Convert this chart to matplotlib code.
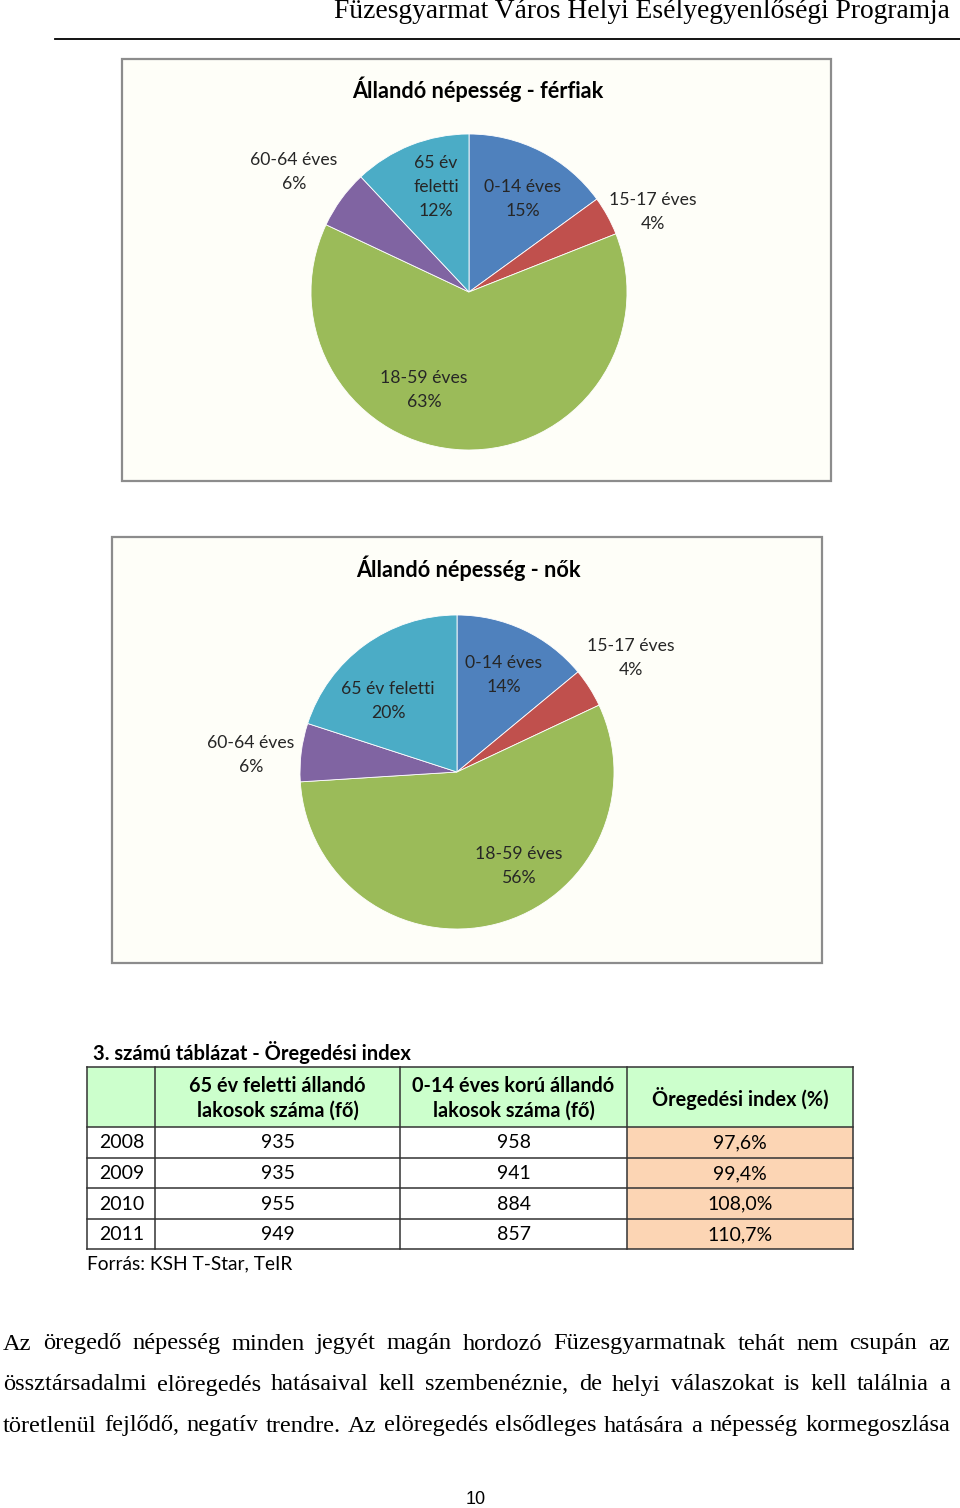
import matplotlib.pyplot as plt
from matplotlib.patches import Rectangle

# --- data ---
age_groups = ["0-14 éves", "15-17 éves", "18-59 éves", "60-64 éves", "65 év feletti"]
male_pct = [15, 4, 63, 6, 12]
female_pct = [14, 4, 56, 6, 20]
slice_colors = ["#4F81BD", "#C0504D", "#9BBB59", "#8064A2", "#4BACC6"]

years = ["2008", "2009", "2010", "2011"]
over65 = [935, 935, 955, 949]
under14 = [958, 941, 884, 857]
aging_index = ["97,6%", "99,4%", "108,0%", "110,7%"]
table_header = ["", "65 év feletti állandó\nlakosok száma (fő)",
                "0-14 éves korú állandó\nlakosok száma (fő)", "Öregedési index (%)"]

body_lines = [
    "Az öregedő népesség minden jegyét magán hordozó Füzesgyarmatnak tehát nem csupán az",
    "össztársadalmi elöregedés hatásaival kell szembenéznie, de helyi válaszokat is kell találnia a",
    "töretlenül fejlődő, negatív trendre. Az elöregedés elsődleges hatására a népesség kormegoszlása",
]

W, H = 960, 1508
SANS = ["Lato", "DejaVu Sans"]
SERIF = ["Liberation Serif", "DejaVu Serif"]

fig = plt.figure(figsize=(W / 100, H / 100), dpi=100)
bg = fig.add_axes([0, 0, 1, 1], zorder=0)
bg.set_xlim(0, W)
bg.set_ylim(H, 0)
bg.axis("off")


def txt(x, y, s, **kw):
    kw.setdefault("va", "center")
    kw.setdefault("color", "black")
    return fig.text(x, y, s, transform=bg.transData, **kw)


def lines(x, y, parts, step=24, **kw):
    for i, p in enumerate(parts):
        txt(x, y + i * step, p, **kw)


# header
txt(950, 12, "Füzesgyarmat Város Helyi Esélyegyenlőségi Programja",
    ha="right", family=SERIF, fontsize=19.8)
bg.plot([55, 960], [39, 39], color="black", lw=1.3)


def pie_chart(frame, center, radius, title, title_y, values, label_pos):
    x0, y0, x1, y1 = frame
    bg.add_patch(Rectangle((x0, y0), x1 - x0, y1 - y0, facecolor="#FEFEF8",
                           edgecolor="#8C8C8C", lw=1.6))
    txt((x0 + x1) / 2 + 1, title_y, title, ha="center", family=SANS,
        fontsize=15.6, fontweight="bold")
    cx, cy = center
    ax = fig.add_axes([(cx - radius) / W, 1 - (cy + radius) / H,
                       2 * radius / W, 2 * radius / H], zorder=1)
    ax.pie(values, colors=slice_colors, startangle=90, counterclock=False,
           radius=1, wedgeprops=dict(edgecolor="white", linewidth=0.6))
    ax.set_xlim(-1, 1)
    ax.set_ylim(-1, 1)
    ax.patch.set_alpha(0)
    for name, v, (lx, ly, parts) in zip(age_groups, values, label_pos):
        lines(lx, ly, parts + [f"{v}%"], ha="center", family=SANS,
              fontsize=12.7, color="#262626")


# male chart
pie_chart((122, 59, 831, 481), (469, 292), 158, "Állandó népesség - férfiak", 89,
          male_pct,
          [(523, 187, ["0-14 éves"]),
           (653, 200, ["15-17 éves"]),
           (424, 378, ["18-59 éves"]),
           (294, 160, ["60-64 éves"]),
           (436, 163, ["65 év", "feletti"])])

# female chart
pie_chart((112, 537, 822, 963), (457, 772), 157, "Állandó népesség - nők", 568,
          female_pct,
          [(504, 663, ["0-14 éves"]),
           (631, 646, ["15-17 éves"]),
           (519, 854, ["18-59 éves"]),
           (251, 743, ["60-64 éves"]),
           (388, 689, ["65 év feletti"])])

# table
FS = 14.3
txt(93, 1053, "3. számú táblázat - Öregedési index", ha="left", family=SANS,
    fontsize=14.5, fontweight="bold")
col_x = [87, 155, 400, 627, 853]
row_y = [1067, 1127, 1158, 1188, 1219, 1249]
line_c = "#333333"
for c in range(4):
    bg.add_patch(Rectangle((col_x[c], row_y[0]), col_x[c + 1] - col_x[c],
                           row_y[1] - row_y[0], facecolor="#CCFFCC",
                           edgecolor="none"))
for r in range(len(years)):
    bg.add_patch(Rectangle((col_x[3], row_y[r + 1]), col_x[4] - col_x[3],
                           row_y[r + 2] - row_y[r + 1], facecolor="#FCD5B4",
                           edgecolor="none"))
for y in row_y:
    bg.plot([col_x[0], col_x[-1]], [y, y], color=line_c, lw=1.1)
for x in col_x:
    bg.plot([x, x], [row_y[0], row_y[-1]], color=line_c, lw=1.1)

for c in range(1, 4):
    xc = (col_x[c] + col_x[c + 1]) / 2
    txt(xc, (row_y[0] + row_y[1]) / 2 + 1, table_header[c], ha="center",
        family=SANS, fontsize=FS, fontweight="bold", linespacing=1.3)
for r, yr in enumerate(years):
    yc = (row_y[r + 1] + row_y[r + 2]) / 2 + 0.5
    txt(99, yc, yr, ha="left", family=SANS, fontsize=14)
    txt((col_x[1] + col_x[2]) / 2, yc, str(over65[r]), ha="center", family=SANS, fontsize=14)
    txt((col_x[2] + col_x[3]) / 2, yc, str(under14[r]), ha="center", family=SANS, fontsize=14)
    txt((col_x[3] + col_x[4]) / 2, yc, aging_index[r], ha="center", family=SANS, fontsize=14)
txt(87, 1264, "Forrás: KSH T-Star, TeIR", ha="left", family=SANS, fontsize=13.8)

# justified body text
renderer = fig.canvas.get_renderer()
left, right = 3, 950
for i, line in enumerate(body_lines):
    y = 1344 + i * 41
    words = [txt(0, y, w, ha="left", family=SERIF, fontsize=17.6) for w in line.split()]
    widths = [w.get_window_extent(renderer).width for w in words]
    gap = (right - left - sum(widths)) / (len(words) - 1)
    x = left
    for w, wd in zip(words, widths):
        w.set_x(x)
        x += wd + gap

txt(476, 1500, "10", ha="center", family=["Liberation Sans", "DejaVu Sans"], fontsize=13)

fig.savefig("out.png", dpi=100)
